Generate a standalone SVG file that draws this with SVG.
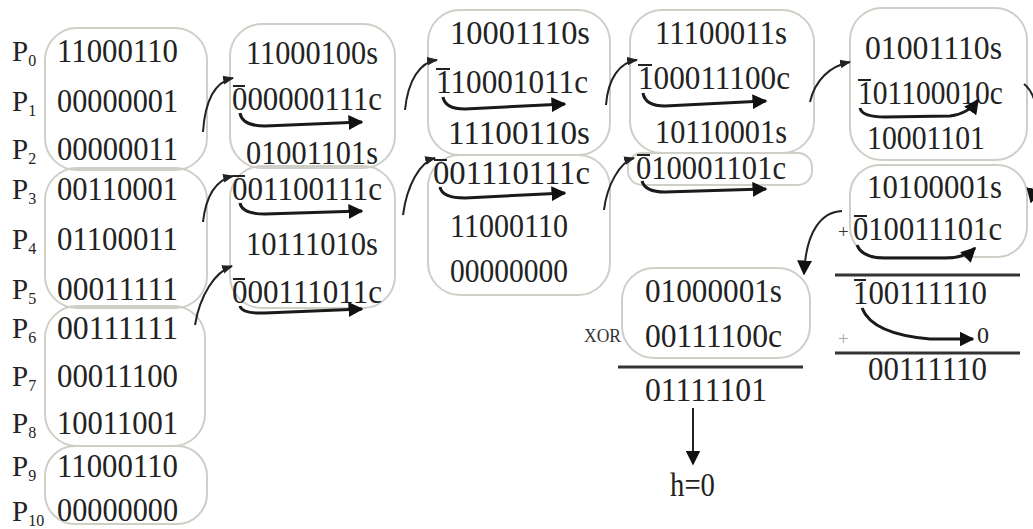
<svg xmlns="http://www.w3.org/2000/svg" width="1033" height="529" viewBox="0 0 1033 529">
<defs>
<style>
.t{font-family:"Liberation Serif","Times New Roman",serif;font-size:34px;fill:#222}
.p{font-family:"Liberation Serif","Times New Roman",serif;font-size:29px;fill:#222}
.sub{font-size:16px}
.sm{font-family:"Liberation Serif","Times New Roman",serif;font-size:19px;fill:#333}
.box{fill:none;stroke:#cfcfc8;stroke-width:2}
.con{fill:none;stroke:#222;stroke-width:2}
.car{fill:none;stroke:#1a1a1a;stroke-width:3}
.rule{stroke:#333;stroke-width:3}
.bar{stroke:#222;stroke-width:2}
</style>
<marker id="ah" viewBox="0 0 10 10" refX="9" refY="5" markerWidth="11" markerHeight="11" markerUnits="userSpaceOnUse" orient="auto"><path d="M0,1 L10,5 L0,9 z" fill="#222"/></marker>
<marker id="ahb" viewBox="0 0 10 10" refX="9" refY="5" markerWidth="15" markerHeight="15" markerUnits="userSpaceOnUse" orient="auto"><path d="M0,0 L10,5 L0,10 z" fill="#111"/></marker>
</defs>
<rect width="1033" height="529" fill="#fff"/>

<g id="col1">
<g id="g1"><rect class="box" x="45" y="28" width="162" height="142" rx="32"/></g>
<g id="g2"><rect class="box" x="45" y="168" width="162" height="140" rx="32"/></g>
<g id="g3"><rect class="box" x="45" y="306" width="160" height="140" rx="32"/></g>
<g id="g4"><rect class="box" x="45" y="446" width="162" height="78" rx="30"/></g>
<text class="p" x="12" y="61">P<tspan class="sub" dy="5">0</tspan></text>
<text class="p" x="12" y="111">P<tspan class="sub" dy="5">1</tspan></text>
<text class="p" x="12" y="159">P<tspan class="sub" dy="5">2</tspan></text>
<text class="p" x="12" y="199">P<tspan class="sub" dy="5">3</tspan></text>
<text class="p" x="12" y="249">P<tspan class="sub" dy="5">4</tspan></text>
<text class="p" x="12" y="299">P<tspan class="sub" dy="5">5</tspan></text>
<text class="p" x="12" y="338">P<tspan class="sub" dy="5">6</tspan></text>
<text class="p" x="12" y="386">P<tspan class="sub" dy="5">7</tspan></text>
<text class="p" x="12" y="433">P<tspan class="sub" dy="5">8</tspan></text>
<text class="p" x="12" y="476">P<tspan class="sub" dy="5">9</tspan></text>
<text class="p" x="12" y="521">P<tspan class="sub" dy="5">10</tspan></text>
<text class="t" x="57" y="62" textLength="121" lengthAdjust="spacingAndGlyphs">11000110</text>
<text class="t" x="57" y="112" textLength="121" lengthAdjust="spacingAndGlyphs">00000001</text>
<text class="t" x="57" y="160" textLength="121" lengthAdjust="spacingAndGlyphs">00000011</text>
<text class="t" x="57" y="200" textLength="121" lengthAdjust="spacingAndGlyphs">00110001</text>
<text class="t" x="57" y="250" textLength="121" lengthAdjust="spacingAndGlyphs">01100011</text>
<text class="t" x="57" y="300" textLength="121" lengthAdjust="spacingAndGlyphs">00011111</text>
<text class="t" x="57" y="339" textLength="121" lengthAdjust="spacingAndGlyphs">00111111</text>
<text class="t" x="57" y="387" textLength="121" lengthAdjust="spacingAndGlyphs">00011100</text>
<text class="t" x="57" y="434" textLength="121" lengthAdjust="spacingAndGlyphs">10011001</text>
<text class="t" x="57" y="477" textLength="121" lengthAdjust="spacingAndGlyphs">11000110</text>
<text class="t" x="57" y="521" textLength="121" lengthAdjust="spacingAndGlyphs">00000000</text>
</g>

<g id="col2">
<rect class="box" x="230" y="24" width="165" height="144" rx="32"/>
<rect class="box" x="230" y="166" width="165" height="142" rx="32"/>
<text class="t" x="246" y="64" textLength="132" lengthAdjust="spacingAndGlyphs">11000100s</text>
<text class="t" x="232" y="110" textLength="150" lengthAdjust="spacingAndGlyphs">000000111c</text>
<text class="t" x="246" y="164" textLength="132" lengthAdjust="spacingAndGlyphs">01001101s</text>
<text class="t" x="232" y="200" textLength="150" lengthAdjust="spacingAndGlyphs">001100111c</text>
<text class="t" x="246" y="255" textLength="132" lengthAdjust="spacingAndGlyphs">10111010s</text>
<text class="t" x="232" y="303" textLength="150" lengthAdjust="spacingAndGlyphs">000111011c</text>
<line class="bar" x1="233" y1="86" x2="245" y2="86"/>
<line class="bar" x1="233" y1="176" x2="245" y2="176"/>
<line class="bar" x1="233" y1="279" x2="245" y2="279"/>
</g>

<g id="col3">
<rect class="box" x="428" y="10" width="182" height="145" rx="32"/>
<rect class="box" x="428" y="155" width="182" height="140" rx="32"/>
<text class="t" x="450" y="44" textLength="140" lengthAdjust="spacingAndGlyphs">10001110s</text>
<text class="t" x="436" y="93" textLength="152" lengthAdjust="spacingAndGlyphs">110001011c</text>
<text class="t" x="448" y="144" textLength="142" lengthAdjust="spacingAndGlyphs">11100110s</text>
<text class="t" x="433" y="184" textLength="157" lengthAdjust="spacingAndGlyphs">001110111c</text>
<text class="t" x="450" y="237" textLength="118" lengthAdjust="spacingAndGlyphs">11000110</text>
<text class="t" x="450" y="282" textLength="118" lengthAdjust="spacingAndGlyphs">00000000</text>
<line class="bar" x1="436" y1="69" x2="450" y2="69"/>
<line class="bar" x1="434" y1="160" x2="447" y2="160"/>
</g>

<g id="col4">
<rect class="box" x="630" y="10" width="184" height="143" rx="32"/>
<rect class="box" x="628" y="153" width="184" height="32" rx="14"/>
<text class="t" x="655" y="44" textLength="132" lengthAdjust="spacingAndGlyphs">11100011s</text>
<text class="t" x="638" y="89" textLength="152" lengthAdjust="spacingAndGlyphs">100011100c</text>
<text class="t" x="655" y="143" textLength="132" lengthAdjust="spacingAndGlyphs">10110001s</text>
<text class="t" x="636" y="179" textLength="150" lengthAdjust="spacingAndGlyphs">010001101c</text>
<line class="bar" x1="638" y1="65" x2="652" y2="65"/>
<line class="bar" x1="637" y1="155" x2="650" y2="155"/>
</g>

<g id="col5">
<rect class="box" x="850" y="8" width="177" height="152" rx="32"/>
<rect class="box" x="850" y="165" width="177" height="92" rx="30"/>
<text class="t" x="865" y="59" textLength="137" lengthAdjust="spacingAndGlyphs">01001110s</text>
<text class="t" x="858" y="104" textLength="145" lengthAdjust="spacingAndGlyphs">101100010c</text>
<text class="t" x="867" y="149" textLength="118" lengthAdjust="spacingAndGlyphs">10001101</text>
<text class="t" x="867" y="198" textLength="135" lengthAdjust="spacingAndGlyphs">10100001s</text>
<text class="sm" x="838" y="238">+</text>
<text class="t" x="853" y="240" textLength="149" lengthAdjust="spacingAndGlyphs">010011101c</text>
<line class="rule" x1="835" y1="275" x2="1020" y2="275"/>
<text class="t" x="853" y="304" textLength="134" lengthAdjust="spacingAndGlyphs">100111110</text>
<line class="bar" x1="858" y1="80" x2="871" y2="80"/>
<line class="bar" x1="854" y1="216" x2="867" y2="216"/>
<line class="bar" x1="854" y1="280" x2="866" y2="280"/>
<text class="sm" x="838" y="345" style="fill:#aaa">+</text>
<text class="t" x="977" y="343" style="font-size:24px">0</text>
<line class="rule" x1="835" y1="353" x2="1020" y2="353"/>
<text class="t" x="868" y="380" textLength="119" lengthAdjust="spacingAndGlyphs">00111110</text>
</g>

<g id="xor">
<rect class="box" x="622" y="268" width="188" height="90" rx="32"/>
<text class="t" x="645" y="302" textLength="137" lengthAdjust="spacingAndGlyphs">01000001s</text>
<text class="sm" x="584" y="342" textLength="37" lengthAdjust="spacingAndGlyphs">XOR</text>
<text class="t" x="645" y="347" textLength="137" lengthAdjust="spacingAndGlyphs">00111100c</text>
<line class="rule" x1="618" y1="367" x2="803" y2="367"/>
<text class="t" x="645" y="401" textLength="122" lengthAdjust="spacingAndGlyphs">01111101</text>
<text class="t" x="670" y="496" textLength="45" lengthAdjust="spacingAndGlyphs">h=0</text>
</g>

<g id="connectors">
<path class="con" marker-end="url(#ah)" d="M203,132 C205,100 215,82 233,78"/>
<path class="con" marker-end="url(#ah)" d="M203,222 C206,195 216,180 233,176"/>
<path class="con" marker-end="url(#ah)" d="M195,325 C200,295 215,272 232,266"/>
<path class="con" marker-end="url(#ah)" d="M405,110 C408,80 420,62 437,60"/>
<path class="con" marker-end="url(#ah)" d="M403,215 C407,185 420,162 435,158"/>
<path class="con" marker-end="url(#ah)" d="M606,105 C608,78 620,62 637,60"/>
<path class="con" marker-end="url(#ah)" d="M604,210 C607,185 620,162 634,158"/>
<path class="con" marker-end="url(#ah)" d="M810,102 C815,80 830,66 850,62"/>
<path class="con" marker-end="url(#ahb)" d="M842,211 C822,212 806,230 804,274"/>
<path class="con" marker-end="url(#ahb)" d="M1024,84 C1045,100 1040,160 1031,202"/>
<path class="con" marker-end="url(#ahb)" d="M693,408 L693,464"/>
<path class="car" marker-end="url(#ahb)" d="M240,113 Q242,126 265,126 L362,122"/>
<path class="car" marker-end="url(#ahb)" d="M240,203 Q242,214 265,214 L362,211"/>
<path class="car" marker-end="url(#ahb)" d="M240,306 Q242,314 265,313 L362,309"/>
<path class="car" marker-end="url(#ahb)" d="M443,97 Q445,109 465,109 L565,104"/>
<path class="car" marker-end="url(#ahb)" d="M440,187 Q442,198 465,198 L565,193"/>
<path class="car" marker-end="url(#ahb)" d="M643,93 Q645,106 665,106 L766,101"/>
<path class="car" marker-end="url(#ahb)" d="M642,181 Q645,192 665,192 L766,189"/>
<path class="car" marker-end="url(#ahb)" d="M860,108 Q862,117 885,117 L950,116 Q968,114 978,100"/>
<path class="car" marker-end="url(#ahb)" d="M857,245 Q862,258 885,258 L945,258 Q965,258 975,248"/>
<path class="car" marker-end="url(#ahb)" d="M862,308 Q872,334 930,339 L973,339"/>
</g>
</svg>
